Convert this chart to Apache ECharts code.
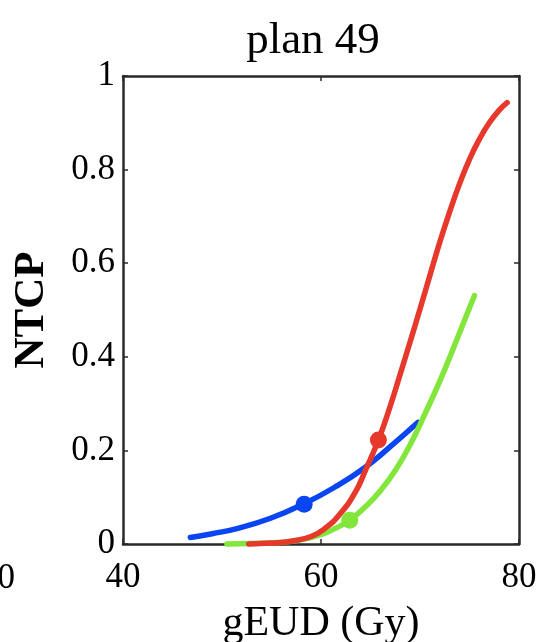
<!DOCTYPE html>
<html>
<head>
<meta charset="utf-8">
<script src="https://cdn.jsdelivr.net/npm/echarts@6/dist/echarts.min.js"></script>
<style>
html,body{margin:0;padding:0;background:#fff;}
#chart{width:539px;height:642px;}
</style>
</head>
<body>
<div id="chart"></div>
<script>
// ---- data ----
var titleText = "plan 49";
var xName = "gEUD (Gy)";
var yName = "NTCP";
var xTicks = [40, 60, 80];
var yTicks = [0, 0.2, 0.4, 0.6, 0.8, 1];

var blueX = [46.8, 49.0, 51.5, 54.9, 58.2, 61.6, 64.4, 67.0, 69.8];
var blueY = [0.014, 0.022, 0.033, 0.055, 0.085, 0.124, 0.163, 0.208, 0.260];

var greenX = [50.5, 53.0, 55.5, 58.0, 60.0, 61.5, 62.9, 64.5, 66.0, 67.5, 69.0, 70.5, 72.0, 73.5, 75.5];
var greenY = [0.000, 0.001, 0.003, 0.009, 0.020, 0.034, 0.051, 0.080, 0.114, 0.157, 0.212, 0.278, 0.348, 0.425, 0.531];

var redX = [52.7, 55.0, 57.0, 59.0, 60.5, 62.0, 63.5, 64.5, 65.8, 67.0, 68.0, 69.0, 70.0, 71.0, 72.0, 73.0, 74.0, 75.0, 76.0, 77.0, 78.0, 78.8];
var redY = [0.000, 0.002, 0.006, 0.016, 0.035, 0.066, 0.112, 0.158, 0.222, 0.295, 0.363, 0.432, 0.502, 0.574, 0.645, 0.710, 0.770, 0.822, 0.865, 0.900, 0.927, 0.943];

var markerBlue = [58.3, 0.085];
var markerGreen = [62.9, 0.051];
var markerRed = [65.8, 0.222];

var colBlue = "#0a45f2";
var colGreen = "#82e63c";
var colRed = "#e6392b";

function pairs(xs, ys){ return xs.map(function(x,i){ return [x, ys[i]]; }); }

var FONT = "Liberation Serif";
var frameColor = "#2a2a2a";

var chart = echarts.init(document.getElementById('chart'), null, {renderer:'canvas'});

function lineSeries(name, xs, ys, color){
  return {
    name: name, type: 'line', xAxisIndex: 0, yAxisIndex: 0,
    data: pairs(xs, ys), smooth: 0.5,
    showSymbol: false, symbol: 'none',
    lineStyle: {color: color, width: 5.5, cap: 'round'},
    silent: true, clip: false
  };
}
function markerSeries(name, p, color){
  return {
    name: name, type: 'scatter', xAxisIndex: 0, yAxisIndex: 0,
    data: [p], symbol: 'circle', symbolSize: 17,
    itemStyle: {color: color, opacity: 1}, silent: true, z: 5
  };
}

var option = {
  backgroundColor: '#ffffff',
  animation: false,
  title: {
    text: titleText, left: 308, top: 14, textAlign: 'center',
    textStyle: {fontFamily: FONT, fontSize: 45, fontWeight: 'normal', color: '#000'}
  },
  grid: {left: 123, right: 20, top: 76, bottom: 98, containLabel: false, outerBoundsMode: 'none'},
  xAxis: [{
    type: 'value', min: xTicks[0], max: xTicks[xTicks.length-1], interval: 20,
    position: 'bottom',
    name: xName, nameLocation: 'middle', nameGap: 59,
    nameTextStyle: {fontFamily: FONT, fontSize: 42, color: '#000'},
    axisLine: {show: true, onZero: false, lineStyle: {color: frameColor, width: 2.5}},
    axisTick: {show: true, inside: true, length: 5, lineStyle: {color: frameColor, width: 1.5}},
    axisLabel: {fontFamily: FONT, fontSize: 35, color: '#000', margin: 16},
    splitLine: {show: false}
  },{
    type: 'value', min: xTicks[0], max: xTicks[xTicks.length-1], interval: 20,
    position: 'top',
    axisLine: {show: true, onZero: false, lineStyle: {color: frameColor, width: 2.5}},
    axisTick: {show: true, inside: true, length: 5, lineStyle: {color: frameColor, width: 1.5}},
    axisLabel: {show: false}, splitLine: {show: false}
  }],
  yAxis: [{
    type: 'value', min: yTicks[0], max: yTicks[yTicks.length-1], interval: 0.2,
    position: 'left',
    name: yName, nameLocation: 'middle', nameGap: 70, nameRotate: 90,
    nameTextStyle: {fontFamily: FONT, fontSize: 43, fontWeight: 'bold', color: '#000'},
    axisLine: {show: true, onZero: false, lineStyle: {color: frameColor, width: 2.5}},
    axisTick: {show: true, inside: true, length: 5, lineStyle: {color: frameColor, width: 1.5}},
    axisLabel: {fontFamily: FONT, fontSize: 35, color: '#000', margin: 8,
      formatter: function(v){ return String(Math.round(v*10)/10); }},
    splitLine: {show: false}
  },{
    type: 'value', min: yTicks[0], max: yTicks[yTicks.length-1], interval: 0.2,
    position: 'right',
    axisLine: {show: true, onZero: false, lineStyle: {color: frameColor, width: 2.5}},
    axisTick: {show: true, inside: true, length: 5, lineStyle: {color: frameColor, width: 1.5}},
    axisLabel: {show: false}, splitLine: {show: false}
  }],
  graphic: [{
    type: 'text', left: -20, top: 561,
    style: {text: '80', font: '35px "Liberation Serif"', fill: '#000'}
  }],
  series: [
    lineSeries('blue', blueX, blueY, colBlue),
    lineSeries('green', greenX, greenY, colGreen),
    lineSeries('red', redX, redY, colRed),
    markerSeries('mBlue', markerBlue, colBlue),
    markerSeries('mGreen', markerGreen, colGreen),
    markerSeries('mRed', markerRed, colRed)
  ]
};
chart.setOption(option);
</script>
</body>
</html>
